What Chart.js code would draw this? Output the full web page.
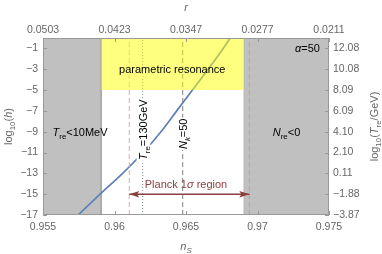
<!DOCTYPE html>
<html><head><meta charset="utf-8">
<script src="https://cdn.jsdelivr.net/npm/chart.js@4.4.0/dist/chart.umd.min.js"></script>
<style>html,body{margin:0;padding:0;background:#fff}#wrap{width:382px;height:254px}</style>
</head><body><div id="wrap"><canvas id="c" width="382" height="254"></canvas></div>
<script>
const nsTicks=[0.955,0.96,0.965,0.97,0.975];
const nsTickLabels=['0.955','0.96','0.965','0.97','0.975'];
const rTickLabels=['0.0503','0.0423','0.0347','0.0277','0.0211'];
const hTicks=[-1,-3,-5,-7,-9,-11,-13,-15,-17];
const hTickLabels=['\u22121','\u22123','\u22125','\u22127','\u22129','\u221211','\u221213','\u221215','\u221217'];
const treTickLabels=['12.08','10.08','8.09','6.09','4.10','2.10','0.11','\u22121.88','\u22123.87'];
const curveNs=[0.95745,0.95899,0.96057,0.96200,0.96325,0.96435,0.96545,0.96655,0.96760,0.96810];
const curveLogH=[-17,-15,-13,-11,-9,-7,-5,-3,-1,0];
const coldNs=[0.955,0.95906];
const negNreNs=[0.96906,0.975];
const resonanceNs=[0.95906,0.96906];
const resonanceLogH=[-5,0];
const planckNs=[0.96103,0.96943];
const treLineNs=0.96197;
const nkLineNs=0.96477;
const arrowLogH=-15;
const yRange=[-17,0];
const xRange=[0.955,0.975];

const FAM='"Liberation Sans", Arial, sans-serif';
const ARROW='#8c3e3e';

function rich(ctx,segs,x,y,size,color,align,rot,bg){
  ctx.save();ctx.translate(x,y);if(rot)ctx.rotate(rot);
  const fonts=segs.map(s=>(s.i?'italic ':'')+(s.sub?size*0.72:size)+'px '+FAM);
  let w=0;const ws=segs.map((s,k)=>{ctx.font=fonts[k];const m=ctx.measureText(s.t).width;w+=m;return m;});
  let x0=align==='center'?-w/2:(align==='right'?-w:0);
  const base=size*0.36;
  if(bg){ctx.fillStyle='#fff';ctx.fillRect(x0-1,-size*0.6,w+2,size*1.25);}
  ctx.fillStyle=color;ctx.textBaseline='alphabetic';
  segs.forEach((s,k)=>{ctx.font=fonts[k];ctx.fillText(s.t,x0,base+(s.sub?size*0.3:0));x0+=ws[k];});
  ctx.restore();
}

const vline=(x,color,dash,order,w)=>({data:[{x:x,y:yRange[0]},{x:x,y:yRange[1]}],borderColor:color,borderWidth:w||1,borderDash:dash,pointRadius:0,fill:false,order:order});

const datasets=[
  {data:[{x:planckNs[0],y:arrowLogH},{x:planckNs[1],y:arrowLogH}],borderColor:ARROW,borderWidth:1.4,pointRadius:0,fill:false,order:1},
  {data:[{x:resonanceNs[0],y:resonanceLogH[1]},{x:resonanceNs[1],y:resonanceLogH[1]}],borderWidth:0,pointRadius:0,backgroundColor:'rgba(255,255,0,0.5)',fill:{value:resonanceLogH[0]},order:2},
  vline(planckNs[0],'#d8aeae',[5,3],3),
  vline(planckNs[1],'#c49c9c',[5,3],3),
  vline(treLineNs,'#8a8a8a',[1,2],3),
  vline(nkLineNs,'#808080',[5,3],3),
  {data:curveNs.map((v,i)=>({x:v,y:curveLogH[i]})),borderColor:'#5e81b5',borderWidth:1.7,pointRadius:0,fill:false,cubicInterpolationMode:'monotone',order:4},
  vline(coldNs[1],'#acacac',[],5,2),
  vline(negNreNs[0],'#b4b4b4',[],5,1),
  {data:[{x:coldNs[0],y:yRange[1]},{x:coldNs[1],y:yRange[1]}],borderWidth:0,pointRadius:0,backgroundColor:'#c0c0c0',fill:{value:yRange[0]},order:6},
  {data:[{x:negNreNs[0],y:yRange[1]},{x:negNreNs[1],y:yRange[1]}],borderWidth:0,pointRadius:0,backgroundColor:'#c0c0c0',fill:{value:yRange[0]},order:6}
];

const tickFont={family:FAM,size:10.5};
const TC='#666';
function fixTicks(vals){return s=>{s.ticks=vals.map(v=>({value:v}));};}

const overlay={
  id:'overlay',
  afterDraw(chart){
    const ctx=chart.ctx,a=chart.chartArea,X=chart.scales.x,Y=chart.scales.y;
    ctx.save();ctx.strokeStyle='#999';ctx.lineWidth=1;
    ctx.strokeRect(a.left+0.5,a.top+0.5,a.right-a.left-1,a.bottom-a.top-1);
    ctx.beginPath();
    nsTicks.forEach(v=>{const p=Math.round(X.getPixelForValue(v))+0.5;ctx.moveTo(p,a.bottom);ctx.lineTo(p,a.bottom-4);ctx.moveTo(p,a.top);ctx.lineTo(p,a.top+4);});
    hTicks.forEach(v=>{const p=Math.round(Y.getPixelForValue(v))+0.5;ctx.moveTo(a.left,p);ctx.lineTo(a.left+4,p);ctx.moveTo(a.right,p);ctx.lineTo(a.right-4,p);});
    ctx.stroke();ctx.restore();
    const ay=Y.getPixelForValue(arrowLogH);
    const xl=X.getPixelForValue(planckNs[0]),xr=X.getPixelForValue(planckNs[1]);
    ctx.save();ctx.fillStyle=ARROW;
    ctx.beginPath();ctx.moveTo(xl,ay);ctx.lineTo(xl+10,ay-3.3);ctx.lineTo(xl+8,ay);ctx.lineTo(xl+10,ay+3.3);ctx.closePath();ctx.fill();
    ctx.beginPath();ctx.moveTo(xr,ay);ctx.lineTo(xr-10,ay-3.3);ctx.lineTo(xr-8,ay);ctx.lineTo(xr-10,ay+3.3);ctx.closePath();ctx.fill();
    ctx.restore();
    const px=v=>X.getPixelForValue(v),py=v=>Y.getPixelForValue(v);
    rich(ctx,[{t:'Planck 1'},{t:'\u03c3',i:true},{t:' region'}],px(0.965),py(-14.05),11,ARROW,'center');
    rich(ctx,[{t:'parametric resonance'}],px(0.96404),py(-2.98),11,'#000','center');
    rich(ctx,[{t:'T',i:true},{t:'re',sub:true},{t:'<10MeV'}],px(0.95759),py(-9.05),11,'#000','center');
    rich(ctx,[{t:'N',i:true},{t:'re',sub:true},{t:'<0'}],px(0.97203),py(-9.05),11,'#000','center');
    rich(ctx,[{t:'\u03b1',i:true},{t:'=50'}],px(0.97437),py(-1),11,'#000','right');
    rich(ctx,[{t:'T',i:true},{t:'re',sub:true},{t:'=130GeV'}],px(treLineNs)+0.5,py(-8.8),11,'#000','center',-Math.PI/2,true);
    rich(ctx,[{t:'N',i:true},{t:'k',i:true,sub:true},{t:'=50'}],px(nkLineNs)+0.5,py(-9.2),11,'#000','center',-Math.PI/2,true);
    const cx=(a.left+a.right)/2,cy=(a.top+a.bottom)/2;
    rich(ctx,[{t:'r',i:true}],cx,7,11,TC,'center');
    rich(ctx,[{t:'n',i:true},{t:'S',i:true,sub:true}],cx,246,11,TC,'center');
    rich(ctx,[{t:'log'},{t:'10',sub:true},{t:'('},{t:'h',i:true},{t:')'}],8,cy,11,TC,'center',-Math.PI/2);
    rich(ctx,[{t:'log'},{t:'10',sub:true},{t:'('},{t:'T',i:true},{t:'re',sub:true},{t:'/GeV)'}],374,cy,11,TC,'center',-Math.PI/2);
  }
};

new Chart(document.getElementById('c'),{
  type:'line',
  data:{datasets:datasets},
  options:{
    responsive:false,animation:false,events:[],
    layout:{padding:0},
    plugins:{legend:{display:false},tooltip:{enabled:false}},
    scales:{
      x:{type:'linear',position:'bottom',min:xRange[0],max:xRange[1],afterBuildTicks:fixTicks(nsTicks),afterFit:s=>{s.height=39;},
        grid:{display:false,drawTicks:false},border:{display:false},
        ticks:{autoSkip:false,maxRotation:0,padding:6,font:tickFont,color:TC,callback:(v,i)=>nsTickLabels[i]}},
      x2:{type:'linear',position:'top',min:xRange[0],max:xRange[1],afterBuildTicks:fixTicks(nsTicks),afterFit:s=>{s.height=38;},
        grid:{display:false,drawTicks:false},border:{display:false},
        ticks:{autoSkip:false,maxRotation:0,padding:2,font:tickFont,color:TC,callback:(v,i)=>rTickLabels[i]}},
      y:{type:'linear',position:'left',min:yRange[0],max:yRange[1],afterBuildTicks:fixTicks(hTicks),afterFit:s=>{s.width=43;},
        grid:{display:false,drawTicks:false},border:{display:false},
        ticks:{autoSkip:false,padding:5,font:tickFont,color:TC,callback:(v,i)=>hTickLabels[i]}},
      y2:{type:'linear',position:'right',min:yRange[0],max:yRange[1],afterBuildTicks:fixTicks(hTicks),afterFit:s=>{s.width=53;},
        grid:{display:false,drawTicks:false},border:{display:false},
        ticks:{autoSkip:false,padding:4,font:tickFont,color:TC,callback:(v,i)=>treTickLabels[i]}}
    }
  },
  plugins:[overlay]
});
</script></body></html>
